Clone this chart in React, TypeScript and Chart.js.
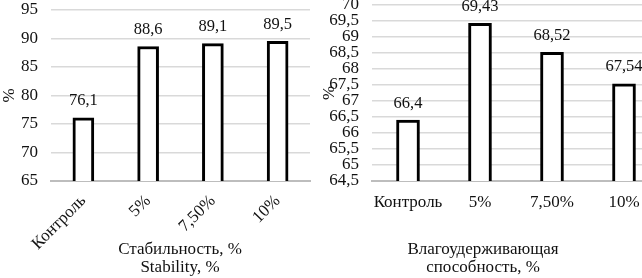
import React, { useEffect, useRef } from "react";
import { Chart, registerables } from "chart.js";

Chart.register(...registerables);

const categories = ["Контроль", "5%", "7,50%", "10%"];
const stabilityValues = [76.1, 88.6, 89.1, 89.5];
const waterValues = [66.4, 69.43, 68.52, 67.54];
const stabilityTicks = [65, 70, 75, 80, 85, 90, 95];
const waterTicks = [64.5, 65, 65.5, 66, 66.5, 67, 67.5, 68, 68.5, 69, 69.5, 70];
const stabilityTitle = ["Стабильность, %", "Stability, %"];
const waterTitle = ["Влагоудерживающая", "способность, %"];
const yTitle = "%";

const FONT = "'Liberation Serif', 'Times New Roman', serif";
const TEXT = "#111";
const fmt = (v: number) => String(v).replace(".", ",");

const valueLabels = {
  id: "valueLabels",
  afterDatasetsDraw(chart: any) {
    const ctx = chart.ctx;
    const meta = chart.getDatasetMeta(0);
    const data = chart.data.datasets[0].data as number[];
    ctx.save();
    ctx.font = `16.5px ${FONT}`;
    ctx.fillStyle = TEXT;
    ctx.textAlign = "center";
    ctx.textBaseline = "middle";
    meta.data.forEach((bar: any, i: number) => {
      ctx.fillText(fmt(data[i]), bar.x, bar.y - 17);
    });
    ctx.restore();
  },
};

const caption = {
  id: "caption",
  afterDraw(chart: any, _args: any, opts: any) {
    const ctx = chart.ctx;
    ctx.save();
    ctx.font = `17px ${FONT}`;
    ctx.fillStyle = TEXT;
    ctx.textAlign = "center";
    ctx.textBaseline = "middle";
    (opts.lines as string[]).forEach((t, i) => {
      ctx.fillText(t, opts.x, opts.y + i * opts.lineHeight);
    });
    ctx.restore();
  },
};

type Cfg = {
  values: number[];
  ticks: number[];
  min: number;
  max: number;
  barThickness: number;
  yWidth: number;
  rotation: number;
  padTop: number;
  padRight: number;
  xHeight: number;
  xPad: number;
  lines: string[];
  capX: number;
  capY: number;
};

function makeChart(canvas: HTMLCanvasElement, c: Cfg) {
  return new Chart(canvas, {
    type: "bar",
    data: {
      labels: categories,
      datasets: [
        {
          data: c.values,
          backgroundColor: "#ffffff",
          borderColor: "#000000",
          borderWidth: 3,
          borderSkipped: "start",
          barThickness: c.barThickness,
        },
      ],
    },
    options: {
      responsive: false,
      animation: false,
      events: [],
      layout: { padding: { top: c.padTop, right: c.padRight, left: 0, bottom: 0 } },
      plugins: {
        legend: { display: false },
        tooltip: { enabled: false },
        caption: { lines: c.lines, x: c.capX, y: c.capY, lineHeight: 18 },
      } as any,
      scales: {
        x: {
          z: 1,
          grid: { display: false, drawTicks: false },
          border: { display: true, color: "#bdbdbd", width: 2 },
          ticks: {
            color: TEXT,
            font: { family: FONT, size: 17, lineHeight: 1.2 },
            padding: c.xPad,
            minRotation: c.rotation,
            maxRotation: c.rotation,
            autoSkip: false,
          },
          afterFit: (s: any) => {
            s.height = c.xHeight;
          },
        },
        y: {
          min: c.min,
          max: c.max,
          grid: {
            color: "#d9d9d9",
            lineWidth: 1.5,
            drawTicks: true,
            tickLength: 13,
            tickColor: "rgba(0,0,0,0)",
          },
          border: { display: false },
          title: {
            display: true,
            text: yTitle,
            color: TEXT,
            font: { family: FONT, size: 17, lineHeight: 1.1 },
            padding: 0,
          },
          ticks: {
            color: TEXT,
            font: { family: FONT, size: 17, lineHeight: 0.5 },
            padding: 0,
            callback: (v: any) => fmt(Number(v)),
          },
          afterBuildTicks: (s: any) => {
            s.ticks = c.ticks.map((v) => ({ value: v }));
          },
          afterFit: (s: any) => {
            s.width = c.yWidth;
          },
        },
      },
    } as any,
    plugins: [valueLabels, caption],
  });
}

export default function App() {
  const leftRef = useRef<HTMLCanvasElement>(null);
  const rightRef = useRef<HTMLCanvasElement>(null);

  useEffect(() => {
    const a = makeChart(leftRef.current!, {
      values: stabilityValues,
      ticks: stabilityTicks,
      min: 65,
      max: 95,
      barThickness: 21,
      yWidth: 51,
      rotation: 45,
      padTop: 10,
      padRight: 10,
      xHeight: 97,
      xPad: 10,
      lines: stabilityTitle,
      capX: 180,
      capY: 250,
    });
    const b = makeChart(rightRef.current!, {
      values: waterValues,
      ticks: waterTicks,
      min: 64.5,
      max: 70,
      barThickness: 23,
      yWidth: 52,
      rotation: 0,
      padTop: 5,
      padRight: 0,
      xHeight: 97,
      xPad: 11,
      lines: waterTitle,
      capX: 163,
      capY: 250,
    });
    return () => {
      a.destroy();
      b.destroy();
    };
  }, []);

  return (
    <div
      style={{
        position: "fixed",
        left: 0,
        top: 0,
        width: 642,
        height: 278,
        overflow: "hidden",
        background: "#fff",
      }}
    >
      <canvas
        ref={leftRef}
        width={320}
        height={278}
        style={{ position: "absolute", left: 0, top: 0, width: 320, height: 278 }}
      />
      <canvas
        ref={rightRef}
        width={340}
        height={278}
        style={{ position: "absolute", left: 320, top: 0, width: 340, height: 278 }}
      />
    </div>
  );
}
